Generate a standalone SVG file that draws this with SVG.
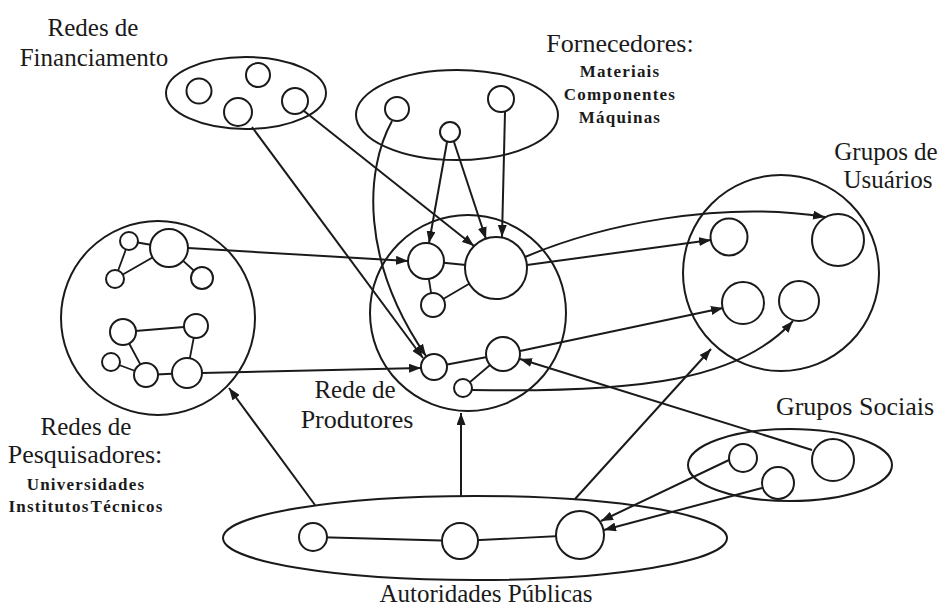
<svg xmlns="http://www.w3.org/2000/svg" width="939" height="610" viewBox="0 0 939 610">
<style>
.o{fill:none;stroke:#1a1a1a;stroke-width:2}
.n{fill:#fff;stroke:#1a1a1a;stroke-width:2}
.l{fill:none;stroke:#1a1a1a;stroke-width:1.8}
.c{fill:none;stroke:#1a1a1a;stroke-width:2}
.t{font-family:"Liberation Serif","Times New Roman",serif;font-size:25px;fill:#1a1a1a;text-anchor:middle}
.s{font-family:"Liberation Serif","Times New Roman",serif;font-size:17px;font-weight:bold;letter-spacing:1.2px;fill:#1a1a1a;text-anchor:middle}
</style>
<defs>
<marker id="ah" markerUnits="userSpaceOnUse" markerWidth="13" markerHeight="9" refX="12" refY="4.5" orient="auto">
<path d="M0,0 L12,4.5 L0,9 z" fill="#1a1a1a"/>
</marker>
</defs>
<rect width="939" height="610" fill="#fff"/>

<g id="financiamento">
<ellipse class="o" cx="246" cy="93" rx="80" ry="36"/>
<circle class="n" cx="199" cy="91" r="12.5"/>
<circle class="n" cx="258" cy="75" r="12"/>
<circle class="n" cx="238" cy="112" r="14"/>
<circle class="n" cx="295" cy="101" r="13"/>
<text class="t" x="93" y="36">Redes de</text>
<text class="t" x="94" y="66">Financiamento</text>
</g>

<g id="fornecedores">
<ellipse class="o" cx="457" cy="115" rx="101" ry="45"/>
<circle class="n" cx="397" cy="109" r="12"/>
<circle class="n" cx="450" cy="132" r="10"/>
<circle class="n" cx="501" cy="99" r="13"/>
<text class="t" x="620" y="52" style="font-size:26px">Fornecedores:</text>
<text class="s" x="620" y="77">Materiais</text>
<text class="s" x="620" y="100">Componentes</text>
<text class="s" x="620" y="123">Máquinas</text>
</g>

<g id="pesquisadores">
<circle class="o" cx="158" cy="318" r="97"/>
<path class="l" d="M129 241 L115 279 M129 241 L169 248 M169 248 L115 279 M169 248 L202 278 M123 332 L196 326 M123 332 L146 375 M111 362 L146 375 M146 375 L187 373 M196 326 L187 373"/>
<circle class="n" cx="129" cy="241" r="9"/>
<circle class="n" cx="169" cy="248" r="19"/>
<circle class="n" cx="115" cy="279" r="9"/>
<circle class="n" cx="202" cy="278" r="11"/>
<circle class="n" cx="123" cy="332" r="13"/>
<circle class="n" cx="196" cy="326" r="12"/>
<circle class="n" cx="111" cy="362" r="9"/>
<circle class="n" cx="146" cy="375" r="12"/>
<circle class="n" cx="187" cy="373" r="15"/>
<text class="t" x="86" y="435">Redes de</text>
<text class="t" x="85" y="463" style="font-size:26px">Pesquisadores:</text>
<text class="s" x="86" y="490">Universidades</text>
<text class="s" x="86" y="512" style="word-spacing:-4px">Institutos Técnicos</text>
</g>

<g id="produtores">
<circle class="o" cx="468" cy="313" r="98"/>
<path class="l" d="M426 261 L496 268 M426 261 L433 305 M433 305 L496 268 M434 367 L503 354 M503 354 L463 388"/>
<circle class="n" cx="496" cy="268" r="31"/>
<circle class="n" cx="426" cy="261" r="18"/>
<circle class="n" cx="433" cy="305" r="12"/>
<circle class="n" cx="434" cy="367" r="13"/>
<circle class="n" cx="503" cy="354" r="17"/>
<circle class="n" cx="463" cy="388" r="9"/>
<text class="t" x="355" y="398">Rede de</text>
<text class="t" x="357" y="428" style="font-size:26px">Produtores</text>
</g>

<g id="usuarios">
<circle class="o" cx="781" cy="273" r="98"/>
<circle class="n" cx="729" cy="237" r="18.5"/>
<circle class="n" cx="838" cy="240" r="26"/>
<circle class="n" cx="743" cy="303" r="21"/>
<circle class="n" cx="799" cy="301" r="20"/>
<text class="t" x="886" y="160">Grupos de</text>
<text class="t" x="888" y="188">Usuários</text>
</g>

<g id="sociais">
<ellipse class="o" cx="790" cy="465" rx="102" ry="36"/>
<circle class="n" cx="743" cy="458" r="14"/>
<circle class="n" cx="778" cy="483" r="16"/>
<circle class="n" cx="833" cy="460" r="21"/>
<text class="t" x="855" y="415" style="font-size:26px">Grupos Sociais</text>
</g>

<g id="autoridades">
<ellipse class="o" cx="475" cy="538" rx="252" ry="42"/>
<path class="l" d="M313 537 L460 541 L580 535"/>
<circle class="n" cx="313" cy="537" r="14"/>
<circle class="n" cx="460" cy="541" r="18"/>
<circle class="n" cx="580" cy="535" r="24"/>
<text class="t" x="486" y="602">Autoridades Públicas</text>
</g>

<g id="connectors">
<path class="c" marker-end="url(#ah)" d="M252 127 L423 358"/>
<path class="c" marker-end="url(#ah)" d="M392 121 C365 170 360 260 426 356"/>
<path class="c" marker-end="url(#ah)" d="M304 111 L474 246"/>
<path class="c" marker-end="url(#ah)" d="M447 142 L429 243"/>
<path class="c" marker-end="url(#ah)" d="M454 142 L486 239"/>
<path class="c" marker-end="url(#ah)" d="M505 112 L502 237"/>
<path class="c" marker-end="url(#ah)" d="M188 248 L408 261"/>
<path class="c" marker-end="url(#ah)" d="M202 373 L421 368"/>
<path class="c" marker-end="url(#ah)" d="M527 265 L711 240"/>
<path class="c" marker-end="url(#ah)" d="M525 257 C600 225 720 200 825 217"/>
<path class="c" marker-end="url(#ah)" d="M520 351 L723 308"/>
<path class="c" marker-end="url(#ah)" d="M472 390 C640 393 740 380 793 321"/>
<path class="c" marker-end="url(#ah)" d="M812 450 L520 359"/>
<path class="c" marker-end="url(#ah)" d="M729 460 L601 521"/>
<path class="c" marker-end="url(#ah)" d="M762 488 L604 530"/>
<path class="c" marker-end="url(#ah)" d="M575 499 L711 349"/>
<path class="c" marker-end="url(#ah)" d="M315 505 L229 388"/>
<path class="c" marker-end="url(#ah)" d="M461 496 L461 413"/>
</g>
</svg>
